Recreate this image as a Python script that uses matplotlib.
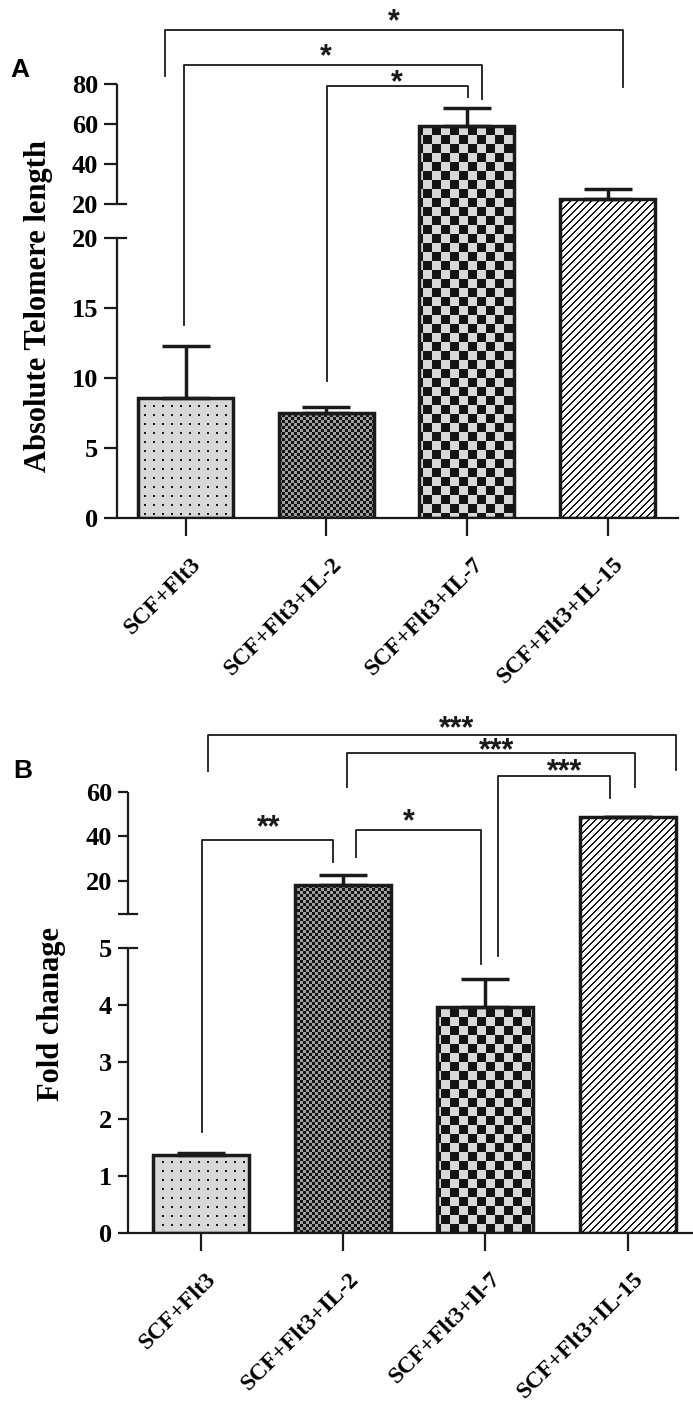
import numpy as np
import matplotlib
matplotlib.use("Agg")
import matplotlib.pyplot as plt
from matplotlib.transforms import ScaledTranslation

# ---------------- data ----------------
categories_a = ["SCF+Flt3", "SCF+Flt3+IL-2", "SCF+Flt3+IL-7", "SCF+Flt3+IL-15"]
categories_b = ["SCF+Flt3", "SCF+Flt3+IL-2", "SCF+Flt3+Il-7", "SCF+Flt3+IL-15"]

telomere_mean = [8.6, 7.5, 59.0, 22.5]
telomere_err = [3.7, 0.4, 9.0, 5.0]

fold_mean = [1.37, 18.2, 3.96, 48.8]
fold_err = [0.03, 4.5, 0.5, 0.0]

yticks_a_low = [0, 5, 10, 15, 20]
yticks_a_high = [20, 40, 60, 80]
yticks_b_low = [0, 1, 2, 3, 4, 5]
yticks_b_high = [20, 40, 60]

# significance brackets: (x_left, x_right, y_top, y_left_end, y_right_end, label, star_x, star_y)
brackets_a = [
    (-0.146, 3.11, 107.0, 84.0, 78.5, "*", 1.48, 114.0),
    (-0.01, 2.11, 89.5, 13.8, 72.5, "*", 1.0, 96.5),
    (1.006, 2.01, 79.0, 9.8, 73.5, "*", 1.5, 83.5),
]
brackets_b = [
    (0.053, 3.34, 85.6, 69.4, 69.9, "***", 1.80, 91.0),
    (1.03, 3.05, 77.5, 62.2, 62.2, "***", 2.08, 81.1),
    (2.09, 2.88, 67.2, 4.86, 57.3, "***", 2.56, 71.7),
    (0.01, 0.93, 38.4, 1.77, 28.5, "**", 0.48, 46.5),
    (1.09, 1.97, 42.9, 30.8, 4.72, "*", 1.46, 49.2),
]

# ---------------- style ----------------
W, H, DPI = 693, 1401, 100
EDGE = "#1a1a1a"
SERIF = ["Liberation Serif", "DejaVu Serif"]
SANS = ["Liberation Sans", "DejaVu Sans"]
plt.rcParams["font.family"] = SERIF
plt.rcParams["font.weight"] = "bold"
plt.rcParams["image.composite_image"] = False

fig = plt.figure(figsize=(W / DPI, H / DPI), dpi=DPI)
fig.patch.set_facecolor("white")


def broken_scale(brk, klow, gap, kup):
    lo = brk * klow

    def fwd(v):
        v = np.asarray(v, dtype=float)
        return np.where(v <= brk, v * klow, lo + gap + (v - brk) * kup)

    def inv(u):
        u = np.asarray(u, dtype=float)
        return np.where(u <= lo, u / klow,
                        np.where(u < lo + gap, brk, brk + (u - lo - gap) / kup))
    return fwd, inv


def texture(kind, w, h):
    yy, xx = np.mgrid[0:h, 0:w]
    img = np.ones((h, w, 3))
    if kind == "dots":
        img[:] = 0.85
        m = (xx % 9 < 2) & (yy % 9 < 2)
        img[m] = 0.1
    elif kind == "fine":
        s = 3
        m = ((xx // s + yy // s) % 2) == 0
        img[:] = 0.62
        img[m] = 0.08
    elif kind == "checker":
        s = 9
        m = ((xx // s + yy // s) % 2) == 0
        img[:] = 0.85
        img[m] = 0.08
    elif kind == "stripes":
        img[:] = 1.0
        m = ((xx + yy) % 7) < 2
        img[m] = 0.08
    return img


PATTERNS = ["dots", "fine", "checker", "stripes"]
TEX = {k: texture(k, W, H) for k in PATTERNS}


def make_panel(rect_px, values, errs, cats, brk, klow, gap, kup, ymax,
               low_ticks, high_ticks, high_labels, xlim, tick_len, brackets):
    left, top, right, bottom = rect_px
    ax = fig.add_axes([left / W, 1 - bottom / H, (right - left) / W, (bottom - top) / H])
    fwd, inv = broken_scale(brk, klow, gap, kup)
    ax.set_yscale("function", functions=(fwd, inv))
    x = np.arange(len(values))
    bars = ax.bar(x, values, width=0.675, facecolor="none", edgecolor=EDGE,
                  linewidth=2.5, zorder=3)
    for b, pat in zip(bars, PATTERNS):
        im = ax.imshow(TEX[pat], extent=(0, 1, 0, 1), origin="upper",
                       transform=fig.transFigure, interpolation="nearest",
                       aspect="auto", zorder=2)
        im.set_clip_path(b.get_path(), b.get_transform())
        im.set_clip_box(fig.bbox)
    ax.errorbar(x, values, yerr=[np.zeros(len(errs)), errs], fmt="none",
                ecolor=EDGE, elinewidth=2.5, capsize=17.5, capthick=2.5, zorder=4)
    ax.set_xlim(*xlim)
    ax.set_ylim(0, ymax)

    eps = 1e-4
    ticks = list(low_ticks) + [brk + eps] + [t for t in high_ticks if t > brk + eps]
    labels = [str(t) for t in low_ticks] + high_labels
    ax.set_yticks(ticks)
    ax.set_yticklabels(labels)
    ax.minorticks_off()

    for s in ["top", "right", "left"]:
        ax.spines[s].set_visible(False)
    ax.spines["bottom"].set_linewidth(1.6)
    ax.spines["bottom"].set_color(EDGE)
    yt = ax.get_yaxis_transform()
    ax.plot([0, 0], [0, brk], transform=yt, color=EDGE, lw=1.6, clip_on=False,
            solid_capstyle="butt")
    ax.plot([0, 0], [brk + eps, ymax], transform=yt, color=EDGE, lw=1.6,
            clip_on=False, solid_capstyle="butt")
    ext = 9.0 / (right - left)
    for yv in (brk, brk + eps):
        ax.plot([0, ext], [yv, yv], transform=yt, color=EDGE, lw=1.6, clip_on=False)

    ax.tick_params(axis="y", length=tick_len, width=1.6, color=EDGE, pad=4,
                   labelsize=19)
    ax.tick_params(axis="x", length=13, width=1.6, color=EDGE, pad=12.5)
    ax.set_xticks(x)
    ax.set_xticklabels(cats, rotation=45, ha="right", va="top",
                       rotation_mode="anchor", fontsize=17, fontweight="bold")
    off = ScaledTranslation(5 / DPI, 0, fig.dpi_scale_trans)
    for lab in ax.get_xticklabels():
        lab.set_transform(lab.get_transform() + off)
    for lab in ax.get_yticklabels():
        lab.set_fontweight("bold")

    for (x1, x2, yt_, yl, yr, lab, sx, sy) in brackets:
        ax.plot([x1, x1, x2, x2], [yl, yt_, yt_, yr], color=EDGE, lw=1.3,
                clip_on=False, zorder=5)
        ax.annotate(lab, xy=(sx, sy), xytext=(0, -10), textcoords="offset points",
                    ha="center", va="baseline", fontsize=22, fontweight="bold",
                    family=SANS, color=EDGE, annotation_clip=False)
    return ax


axA = make_panel((117, 84, 678, 518), telomere_mean, telomere_err, categories_a,
                 brk=20, klow=14.0, gap=34.0, kup=2.0, ymax=80,
                 low_ticks=yticks_a_low, high_ticks=yticks_a_high,
                 high_labels=["20", "40", "60", "80"],
                 xlim=(-0.487, 3.50), tick_len=9.5, brackets=brackets_a)

axB = make_panel((128, 792, 693, 1233), fold_mean, fold_err, categories_b,
                 brk=5, klow=57.0, gap=34.0, kup=2.225, ymax=60,
                 low_ticks=yticks_b_low, high_ticks=yticks_b_high,
                 high_labels=["", "20", "40", "60"],
                 xlim=(-0.51, 3.46), tick_len=7.5, brackets=brackets_b)

fig.text(39 / W, 1 - 306 / H, "Absolute Telomere length", rotation=90,
         ha="center", va="center", fontsize=22, fontweight="bold", family=SERIF)
fig.text(51 / W, 1 - 1014 / H, "Fold chanage", rotation=90,
         ha="center", va="center", fontsize=22, fontweight="bold", family=SERIF)
fig.text(20 / W, 1 - 70 / H, "A", ha="center", va="center", fontsize=19,
         fontweight="bold", family=SANS)
fig.text(23 / W, 1 - 771 / H, "B", ha="center", va="center", fontsize=19,
         fontweight="bold", family=SANS)

fig.savefig("out.png", dpi=DPI, facecolor="white")
